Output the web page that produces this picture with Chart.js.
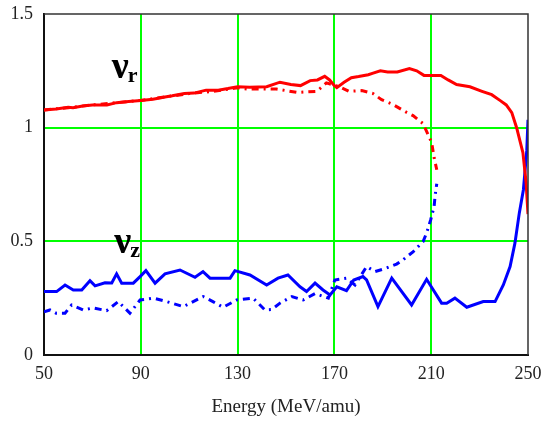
<!DOCTYPE html>
<html>
<head>
<meta charset="utf-8">
<script src="https://cdn.jsdelivr.net/npm/chart.js@4"></script>
<style>
  html, body { margin: 0; padding: 0; background: #fff; }
  #wrap { width: 547px; height: 422px; }
</style>
</head>
<body>
<div id="wrap"><canvas id="c" width="547" height="422"></canvas></div>
<script>
// nu_r, solid curve
const rSolidE = [50, 55, 60, 62, 66, 70, 76, 80, 85, 90, 95, 100, 103, 108, 112, 117, 122, 126, 130, 135, 142, 147.5, 152, 156, 160, 163, 166, 168, 170, 171, 174, 177, 180, 184, 186, 189, 192, 196, 201, 204, 207, 210, 214, 217, 220.5, 226, 231, 235, 238.4, 241, 243.3, 245.3, 247.9, 249.2, 250]
const rSolidNu = [1.078, 1.082, 1.09, 1.088, 1.095, 1.1, 1.1, 1.11, 1.115, 1.12, 1.125, 1.135, 1.14, 1.15, 1.152, 1.165, 1.165, 1.172, 1.18, 1.178, 1.18, 1.2, 1.19, 1.185, 1.207, 1.21, 1.226, 1.21, 1.185, 1.176, 1.2, 1.22, 1.225, 1.233, 1.24, 1.25, 1.245, 1.245, 1.26, 1.25, 1.23, 1.23, 1.23, 1.21, 1.19, 1.18, 1.16, 1.145, 1.12, 1.1, 1.066, 1.0, 0.89, 0.76, 0.62]

// nu_r, dash-dot curve
const rDashE = [50, 60, 70, 80, 90, 100, 110, 120, 130, 134, 140, 146, 154.5, 162.8, 166.7, 172, 176, 181.3, 186, 189.5, 193.7, 199.9, 202.5, 206.6, 208.7, 210.2, 211.2, 212.3]
const rDashNu = [1.078, 1.088, 1.1, 1.11, 1.12, 1.135, 1.15, 1.16, 1.175, 1.17, 1.17, 1.17, 1.155, 1.16, 1.197, 1.18, 1.16, 1.163, 1.15, 1.123, 1.105, 1.067, 1.053, 1.018, 0.97, 0.934, 0.868, 0.815]

// nu_z, solid curve
const zSolidE = [50, 55.2, 58.7, 62.1, 65.6, 69, 71.1, 75.2, 78, 80, 82.1, 86.9, 89.7, 92.1, 95.9, 100, 106.2, 112.4, 115.7, 118.6, 126.9, 128.9, 135.1, 142, 146.7, 150.8, 155.8, 158.5, 162, 165.3, 168.2, 171, 175, 178, 181.8, 183.3, 188, 193.7, 201.9, 208.1, 214.3, 216.4, 219.8, 224.7, 231.5, 236.4, 239.8, 242.6, 244.6, 246.4, 248.1, 249.5, 250]
const zSolidNu = [0.279, 0.279, 0.308, 0.286, 0.286, 0.327, 0.304, 0.318, 0.317, 0.357, 0.316, 0.316, 0.345, 0.371, 0.316, 0.357, 0.374, 0.342, 0.367, 0.338, 0.338, 0.371, 0.352, 0.308, 0.338, 0.352, 0.3, 0.279, 0.316, 0.286, 0.264, 0.3, 0.283, 0.33, 0.345, 0.33, 0.213, 0.338, 0.22, 0.333, 0.228, 0.228, 0.25, 0.21, 0.235, 0.235, 0.308, 0.389, 0.492, 0.624, 0.727, 0.9, 1.035]

// nu_z, dash-dot curve
const zDashE = [50, 52.5, 55, 58.7, 61.4, 66.2, 70.4, 75.9, 80.7, 85.5, 89.7, 95.2, 100.7, 107.6, 115.8, 119.8, 124, 129.6, 136.4, 141.3, 144.1, 147.5, 152.4, 157.1, 162, 167.5, 170.2, 175, 178.5, 183.3, 186.8, 190.9, 195.7, 198.5, 202.6, 206.7, 208.1, 209.8, 211.2, 211.6, 212.3]
const zDashNu = [0.19, 0.198, 0.184, 0.184, 0.22, 0.198, 0.207, 0.195, 0.235, 0.184, 0.242, 0.25, 0.235, 0.213, 0.257, 0.235, 0.21, 0.242, 0.25, 0.198, 0.2, 0.228, 0.257, 0.242, 0.27, 0.25, 0.33, 0.338, 0.308, 0.389, 0.367, 0.38, 0.4, 0.42, 0.455, 0.5, 0.537, 0.595, 0.653, 0.7, 0.753]

const xTicks = [50, 90, 130, 170, 210, 250]
const yTicks = [0, 0.5, 1, 1.5]

const serif = "'Liberation Serif', 'DejaVu Serif', serif"

function pts(xs, ys) {
  return xs.map((x, i) => ({x: x, y: ys[i]}))
}

// nu labels and the top/right frame
const extras = {
  id: 'extras',
  afterDatasetsDraw(chart) {
    const ctx = chart.ctx
    const a = chart.chartArea
    const xs = chart.scales.x, ys = chart.scales.y
    ctx.save()
    ctx.strokeStyle = '#333'
    ctx.lineWidth = 1.5
    ctx.beginPath()
    ctx.moveTo(a.left, a.top)
    ctx.lineTo(a.right, a.top)
    ctx.lineTo(a.right, a.bottom)
    ctx.stroke()

    ctx.fillStyle = '#000'
    ctx.textBaseline = 'alphabetic'
    const labels = [['r', 78, 1.22], ['z', 79, 0.449]]
    labels.forEach(([sub, e, nu]) => {
      const px = xs.getPixelForValue(e), py = ys.getPixelForValue(nu)
      ctx.font = 'bold 38px ' + serif
      ctx.fillText('\u03bd', px, py)
      const w = ctx.measureText('\u03bd').width
      ctx.font = 'bold 22px ' + serif
      ctx.fillText(sub, px + w - 1, py + 4)
    })
    ctx.restore()
  }
}

new Chart(document.getElementById('c').getContext('2d'), {
  type: 'scatter',
  data: {
    datasets: [{
      data: pts(rSolidE, rSolidNu),
      borderColor: '#ff0000',
      borderWidth: 3
    }, {
      data: pts(rDashE, rDashNu),
      borderColor: '#ff0000',
      borderWidth: 3,
      borderDash: [7, 5, 2, 5]
    }, {
      data: pts(zSolidE, zSolidNu),
      borderColor: '#0000ff',
      borderWidth: 3
    }, {
      data: pts(zDashE, zDashNu),
      borderColor: '#0000ff',
      borderWidth: 3,
      borderDash: [7, 5, 2, 5]
    }]
  },
  options: {
    responsive: false,
    animation: false,
    showLine: true,
    elements: {
      point: {radius: 0},
      line: {tension: 0, fill: false}
    },
    layout: {padding: {top: 14, right: 19, left: 0, bottom: 0}},
    plugins: {
      legend: {display: false},
      tooltip: {enabled: false}
    },
    scales: {
      x: {
        type: 'linear',
        min: 50,
        max: 250,
        afterBuildTicks: s => { s.ticks = xTicks.map(v => ({value: v})) },
        afterFit: s => { s.height = 67; s.paddingLeft = 0; s.paddingRight = 0 },
        grid: {
          color: c => (c.tick && (c.tick.value === 50 || c.tick.value === 250)) ? 'rgba(0,0,0,0)' : '#00ff00',
          lineWidth: 2,
          drawTicks: false
        },
        border: {color: '#111', width: 2},
        ticks: {
          color: '#222',
          padding: 8,
          maxRotation: 0,
          font: {family: serif, size: 18}
        },
        title: {
          display: true,
          text: 'Energy (MeV/amu)',
          color: '#222',
          padding: {top: 22},
          font: {family: serif, size: 19}
        }
      },
      y: {
        min: 0,
        max: 1.5,
        afterBuildTicks: s => { s.ticks = yTicks.map(v => ({value: v})) },
        afterFit: s => { s.width = 44; s.paddingTop = 0; s.paddingBottom = 0 },
        grid: {
          color: c => (c.tick && (c.tick.value === 0 || c.tick.value === 1.5)) ? 'rgba(0,0,0,0)' : '#00ff00',
          lineWidth: 2,
          drawTicks: false
        },
        border: {color: '#111', width: 2},
        ticks: {
          color: '#222',
          padding: 11,
          font: {family: serif, size: 18},
          callback: v => String(v)
        }
      }
    }
  },
  plugins: [extras]
});
</script>
</body>
</html>
